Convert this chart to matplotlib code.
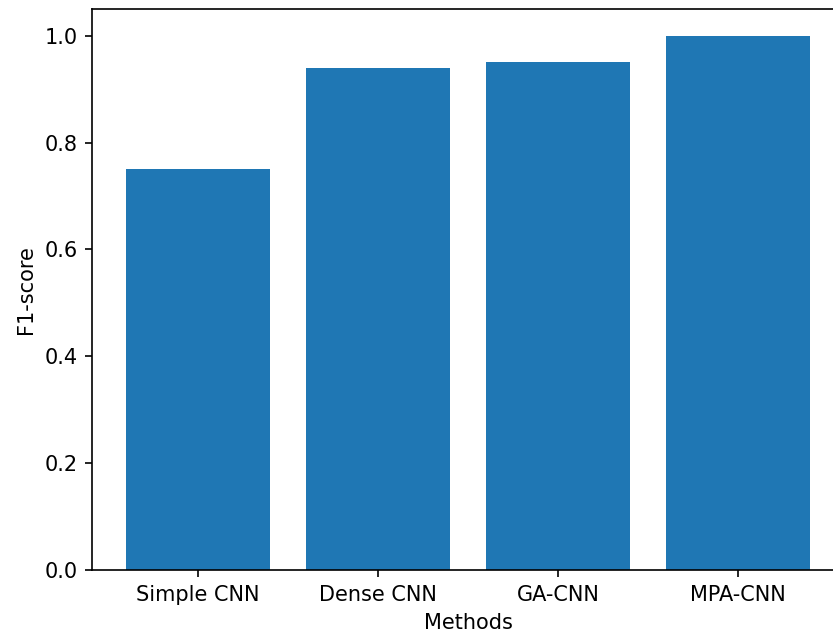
import matplotlib
matplotlib.use("Agg")
from matplotlib import pyplot as plt

methods = ["Simple CNN", "Dense CNN", "GA-CNN", "MPA-CNN"]
f1_scores = [0.75, 0.94, 0.95, 1.0]

fig = plt.figure(figsize=(833 / 150, 637 / 150), dpi=150)
# axes run a little past the right edge of the canvas
ax = fig.add_axes([92 / 833, 67 / 637, 752 / 833, 561 / 637])

ax.bar(methods, f1_scores)

ax.set_xlabel("Methods")
ax.set_ylabel("F1-score")

fig.savefig("out.png", dpi=150)
